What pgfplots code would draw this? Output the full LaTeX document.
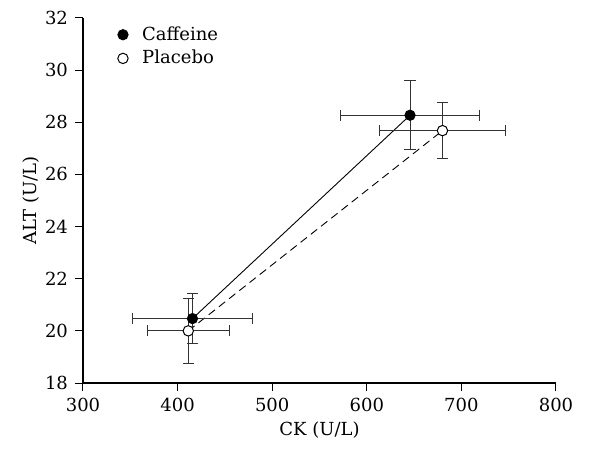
\documentclass[border=0pt]{standalone}
\usepackage{fontspec}
\setmainfont{DejaVu Serif}
\usepackage{pgfplots}
\pgfplotsset{compat=1.18}

\begin{document}
\begin{tikzpicture}[font=\fontsize{9}{11}\selectfont]
\begin{axis}[
    scale only axis, width=236.5pt, height=182.5pt,
    xmin=300, xmax=800, ymin=18, ymax=32,
    xtick={300,400,...,800}, ytick={18,20,...,32},
    axis lines*=left, axis line style={black, line width=0.6pt},
    tick align=outside, major tick length=4pt, tick style={black, line width=0.5pt},
    /pgf/number format/assume math mode=true,
    tick label style={font=\fontsize{9}{11}\selectfont},
    label style={font=\fontsize{9}{11}\selectfont},
    xlabel={CK (U/L)}, ylabel={ALT (U/L)},
    xlabel style={yshift=2pt}, ylabel style={yshift=-4pt},
    legend style={at={(0.06,1.0)}, anchor=north west, draw=none, fill=none,
        font=\fontsize{9}{11}\selectfont, row sep=-0.5pt},
    legend cell align=left,
    clip=false,
]
% connecting lines
\addplot[black, line width=0.45pt, forget plot] coordinates {(415.7,20.47) (645.7,28.27)};
\addplot[black, line width=0.45pt, dash pattern=on 4pt off 2.5pt, forget plot]
    coordinates {(411.3,20.0) (680,27.68)};
% caffeine
\addplot[only marks, mark=*, mark size=2.6pt, mark options={fill=black, draw=black},
    error bars/.cd, x dir=both, x explicit, y dir=both, y explicit,
    error bar style={line width=0.5pt, black!80},
    error mark options={rotate=90, mark size=2.8pt, line width=0.5pt, black!80}]
    coordinates {
    (415.7,20.47) +- (63.2,0.96)
    (645.7,28.27) +- (73.7,1.32)
    };
% placebo
\addplot[only marks, mark=*, mark size=2.6pt, mark options={fill=white, draw=black, line width=0.5pt},
    error bars/.cd, x dir=both, x explicit, y dir=both, y explicit,
    error bar style={line width=0.5pt, black!80},
    error mark options={rotate=90, mark size=2.8pt, line width=0.5pt, black!80}]
    coordinates {
    (411.3,20.0) +- (43.5,1.25)
    (680,27.68) +- (67,1.07)
    };
\legend{\hspace{5pt}Caffeine, \hspace{5pt}Placebo}
\end{axis}
\path ([shift={(-41.5pt,-33.5pt)}]current axis.south west)
    rectangle ([shift={(30pt,9pt)}]current axis.north east);
\end{tikzpicture}
\end{document}
